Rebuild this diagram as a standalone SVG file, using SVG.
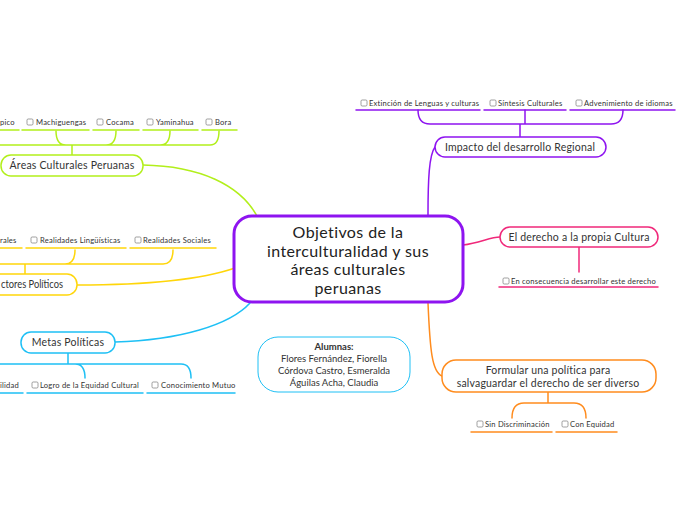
<svg xmlns="http://www.w3.org/2000/svg" width="697" height="520" viewBox="0 0 697 520">
<style>
.t{font-family:Lato,"Noto Sans","Liberation Sans",sans-serif;fill:#333;}
.main{font-size:16px;text-anchor:middle;fill:#222;letter-spacing:0.4px;}
.nt{font-size:10.5px;text-anchor:middle;letter-spacing:0.2px;}
.st{font-size:7.6px;letter-spacing:0.2px;}
.box{fill:#fff;stroke:#888;stroke-width:0.8;}
.c{fill:none;stroke-width:1.5;stroke-linecap:round;}
.g{stroke:#b2ef1b;} .y{stroke:#ffd60a;} .b{stroke:#1ec0f5;} .p{stroke:#8e14f0;} .k{stroke:#f0287a;} .o{stroke:#ff8c1e;}
.n{fill:#fff;stroke-width:1.5;}
</style>
<rect width="697" height="520" fill="#fff"/>
<g id="connectors">
 <path class="c g" d="M143 165 C200 166 240 185 257 216"/>
 <path class="c y" d="M77 285 C150 285 200 280 235 268"/>
 <path class="c b" d="M115 342 C180 340 230 325 250 303"/>
 <path class="c p" d="M428 215 C428 180 429 155 435 147"/>
 <path class="c k" d="M463 245 C480 243 490 237 500 237"/>
 <path class="c o" d="M428 303 C430 350 432 372 442 376"/>
 <path class="c g" d="M72 155 V145 M0 145 H210 Q219 145 219 131 M56 131 Q56 145 66 145 M116 131 Q116 145 106 145 M170 131 Q170 145 160 145"/>
 <path class="c y" d="M25 274 V264 M0 264 H163 Q173 264 173 250 M75 250 Q75 264 65 264"/>
 <path class="c b" d="M68 353 V364 M0 364 H181 Q191 364 191 378 M85 378 Q85 364 75 364"/>
 <path class="c p" d="M520 137 V125 M418 110 Q418 124 430 124 H611 Q623 124 623 110 M525 110 V124"/>
 <path class="c k" d="M579 247 V272"/>
 <path class="c o" d="M548 392 V403 M512 418 Q512 403 524 403 H574 Q586 403 586 418"/>
</g>
<g id="center">
 <rect x="234" y="216" width="229" height="86" rx="18" fill="#fff" stroke="#8e14f0" stroke-width="3"/>
 <text class="t main" x="348" y="238">Objetivos de la</text>
 <text class="t main" x="348" y="257">interculturalidad y  sus</text>
 <text class="t main" x="348" y="275">áreas culturales</text>
 <text class="t main" x="348" y="294">peruanas</text>
</g>
<g id="areas">
 <rect class="n g" x="1" y="155" width="142" height="21" rx="10"/>
 <text class="t nt" x="72" y="169">Áreas Culturales Peruanas</text>
</g>
<g id="areas-children">
 <text class="t st" x="0" y="125">pico</text>
 <path class="c g" d="M0 130 H19 M22 130 H89 M93 130 H139 M143 130 H198 M202 130 H237"/>
 <rect class="box" x="27" y="119" width="6" height="6" rx="1.2"/><text class="t st" x="36" y="125">Machiguengas</text>
 <rect class="box" x="97" y="119" width="6" height="6" rx="1.2"/><text class="t st" x="106" y="125">Cocama</text>
 <rect class="box" x="147" y="119" width="6" height="6" rx="1.2"/><text class="t st" x="156" y="125">Yaminahua</text>
 <rect class="box" x="206" y="119" width="6" height="6" rx="1.2"/><text class="t st" x="215" y="125">Bora</text>
</g>
<g id="factores">
 <rect class="n y" x="-40" y="274" width="117" height="21" rx="10"/>
 <text class="t" x="1" y="288" style="font-size:10.5px" textLength="62" lengthAdjust="spacingAndGlyphs">ctores Políticos</text>
</g>
<g id="factores-children">
 <text class="t st" x="0" y="243">rales</text>
 <path class="c y" d="M0 248 H22 M26 248 H126 M130 248 H216"/>
 <rect class="box" x="31" y="237" width="6" height="6" rx="1.2"/><text class="t st" x="40" y="243">Realidades Lingüísticas</text>
 <rect class="box" x="135" y="237" width="6" height="6" rx="1.2"/><text class="t st" x="143" y="243">Realidades Sociales</text>
</g>
<g id="metas">
 <rect class="n b" x="21" y="332" width="94" height="21" rx="10"/>
 <text class="t nt" x="68" y="346">Metas Políticas</text>
</g>
<g id="metas-children">
 <text class="t st" x="0" y="388">ilidad</text>
 <path class="c b" d="M0 393 H23 M27 393 H143 M147 393 H235"/>
 <rect class="box" x="32" y="382" width="6" height="6" rx="1.2"/><text class="t st" x="40" y="388">Logro de la Equidad Cultural</text>
 <rect class="box" x="152" y="382" width="6" height="6" rx="1.2"/><text class="t st" x="161" y="388">Conocimiento Mutuo</text>
</g>
<g id="impacto">
 <rect class="n p" x="435" y="137" width="171" height="20" rx="10"/>
 <text class="t nt" x="520" y="150.5">Impacto del desarrollo Regional</text>
</g>
<g id="impacto-children">
 <path class="c p" d="M356 110 H480 M484 110 H566 M570 110 H675"/>
 <rect class="box" x="361" y="100" width="6" height="6" rx="1.2"/><text class="t st" x="369" y="106">Extinción de Lenguas y culturas</text>
 <rect class="box" x="490" y="100" width="6" height="6" rx="1.2"/><text class="t st" x="498" y="106">Síntesis Culturales</text>
 <rect class="box" x="576" y="100" width="6" height="6" rx="1.2"/><text class="t st" x="584" y="106">Advenimiento de idiomas</text>
</g>
<g id="derecho">
 <rect class="n k" x="500" y="227" width="158" height="20" rx="10"/>
 <text class="t nt" x="579" y="240.5">El derecho a la propia Cultura</text>
</g>
<g id="derecho-children">
 <path class="c k" d="M499 287 H658"/>
 <rect class="box" x="503" y="278" width="6" height="6" rx="1.2"/><text class="t st" x="511" y="284">En consecuencia desarrollar este derecho</text>
</g>
<g id="formular">
 <rect class="n o" x="442" y="360" width="214" height="32" rx="14"/>
 <text class="t nt" x="548" y="374">Formular una política para</text>
 <text class="t nt" x="548" y="386.5">salvaguardar el derecho de ser diverso</text>
</g>
<g id="formular-children">
 <path class="c o" d="M471 432 H552 M556 432 H617"/>
 <rect class="box" x="477" y="421" width="6" height="6" rx="1.2"/><text class="t st" x="485" y="427">Sin Discriminación</text>
 <rect class="box" x="562" y="421" width="6" height="6" rx="1.2"/><text class="t st" x="570" y="427">Con Equidad</text>
</g>
<g id="alumnas">
 <rect x="258" y="337" width="152" height="55" rx="20" fill="#fff" stroke="#1ec0f5" stroke-width="1"/>
 <text class="t" x="334" y="350" style="font-size:9.5px;text-anchor:middle;font-weight:bold">Alumnas:</text>
 <text class="t" x="334" y="362" style="font-size:9.5px;text-anchor:middle">Flores Fernández, Fiorella</text>
 <text class="t" x="334" y="374" style="font-size:9.5px;text-anchor:middle">Córdova Castro, Esmeralda</text>
 <text class="t" x="334" y="386" style="font-size:9.5px;text-anchor:middle">Águilas Acha, Claudia</text>
</g>
</svg>
